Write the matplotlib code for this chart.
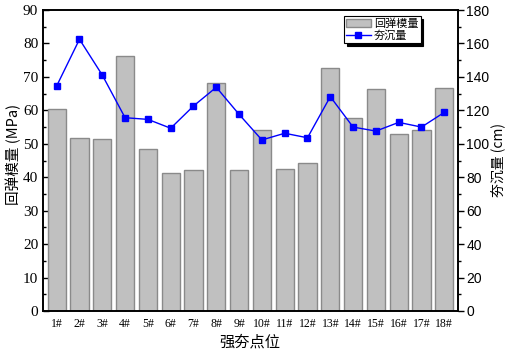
import matplotlib
matplotlib.use("Agg")
import matplotlib.pyplot as plt
import numpy as np

categories = ["1#", "2#", "3#", "4#", "5#", "6#", "7#", "8#", "9#", "10#",
              "11#", "12#", "13#", "14#", "15#", "16#", "17#", "18#"]
modulus = [60.3, 51.8, 51.3, 76.2, 48.5, 41.4, 42.1, 68.2, 42.3, 54.1,
           42.4, 44.2, 72.7, 57.6, 66.3, 52.8, 54.1, 66.7]
settlement = [134.6, 162.5, 141.1, 115.6, 114.6, 109.3, 122.6, 133.8, 117.6, 102.3,
              106.3, 103.6, 128.2, 110.0, 107.6, 112.8, 110.0, 118.8]

cjk = ['Noto Sans CJK SC', 'DejaVu Sans']
serif = ['Liberation Serif', 'DejaVu Serif']
sans = ['Liberation Sans', 'DejaVu Sans']

fig = plt.figure(figsize=(5.1, 3.52), dpi=100)
ax = fig.add_axes([0.0843, 0.1165, 0.8137, 0.855])
x = np.arange(1, len(categories) + 1)
bars = ax.bar(x, modulus, width=0.8, color='#c0c0c0', edgecolor='#8a8a8a', linewidth=1.0,
              label='回弹模量', zorder=2)
ax.set_xlim(0.4, 18.6)
ax.set_ylim(0, 90)
ax.set_yticks(np.arange(0, 91, 10))
ax.set_yticks(np.arange(5, 90, 10), minor=True)
ax.set_xticks(x)
ax.set_xticklabels(categories, family=serif, fontsize=8.5)
for lab in ax.get_yticklabels():
    lab.set_family(serif)
    lab.set_fontsize(11)
ax.tick_params(axis='y', which='major', direction='in', length=4, width=1, right=False)
ax.tick_params(axis='y', which='minor', direction='in', length=2, width=1, right=False)
ax.tick_params(axis='x', which='major', direction='in', length=3, width=1, top=False, pad=5)
for s in ax.spines.values():
    s.set_linewidth(1.2)

ax2 = ax.twinx()
line, = ax2.plot(x, settlement, color='#0000ff', marker='s', markersize=4.2, linewidth=1,
                 label='夯沉量', zorder=3)
ax2.set_ylim(0, 180)
ax2.set_yticks(np.arange(0, 181, 20))
ax2.set_yticks(np.arange(10, 180, 20), minor=True)
for lab in ax2.get_yticklabels():
    lab.set_family(sans)
    lab.set_fontsize(10)
ax2.tick_params(axis='y', which='major', direction='out', length=4, width=1, pad=2)
ax2.tick_params(axis='y', which='minor', direction='out', length=2, width=1)
for s in ax2.spines.values():
    s.set_linewidth(1.2)

fig.text(13 / 510, 1 - 154 / 352, '回弹模量 (MPa)', family=cjk, fontsize=10.5,
         rotation=90, ha='center', va='center')
fig.text(499 / 510, 1 - 160 / 352, '夯沉量 (cm)', family=cjk, fontsize=10,
         rotation=90, ha='center', va='center')
fig.text(250 / 510, 1 - 342 / 352, '强夯点位', family=cjk, fontsize=11,
         ha='center', va='center')

leg = ax2.legend([bars, line], ['回弹模量', '夯沉量'], loc='upper left',
                 bbox_to_anchor=(0.725, 0.98), prop={'family': cjk, 'size': 8},
                 frameon=True, fancybox=False, shadow={'color': 'black', 'alpha': 1},
                 edgecolor='black', borderpad=0.2, handlelength=2.2, handletextpad=0.3,
                 labelspacing=0.1, borderaxespad=0)
leg.get_frame().set_linewidth(0.8)

fig.savefig('out.png', dpi=100)
